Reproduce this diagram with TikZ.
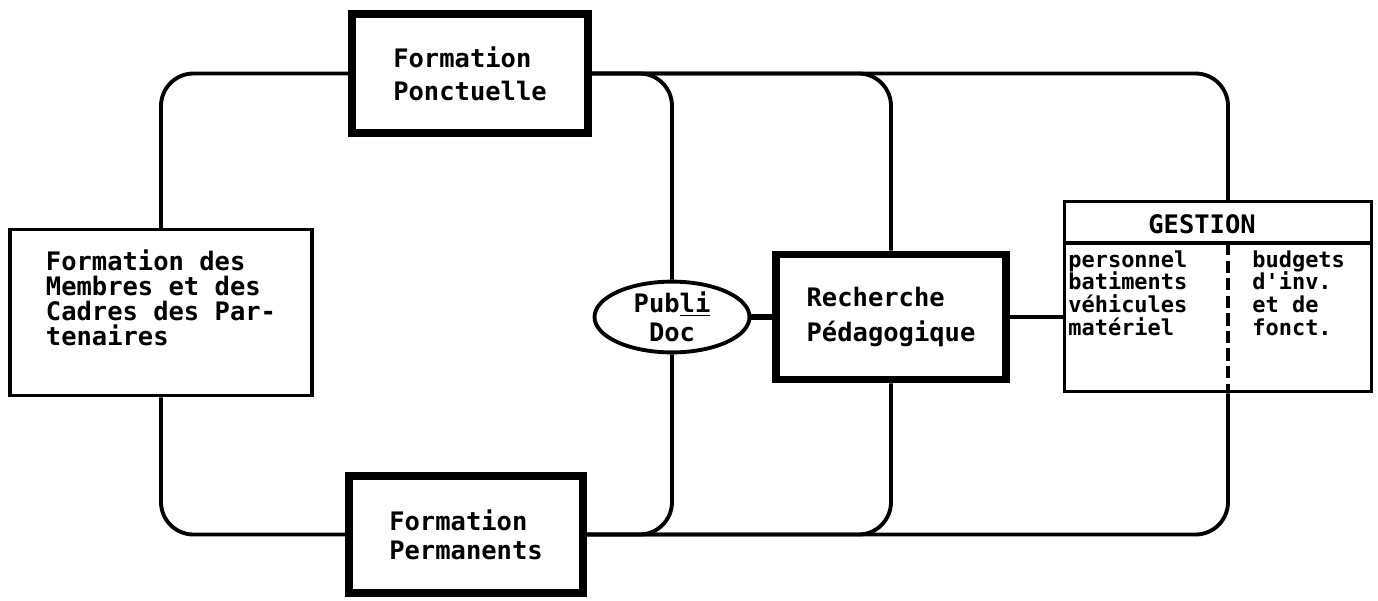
\documentclass[tikz,border=0pt]{standalone}
\usepackage{fontspec}
\setmonofont{DejaVu Sans Mono}
\usetikzlibrary{shapes.geometric}

\tikzset{
  printtext/.style={font=\ttfamily\bfseries\fontsize{14.5}{18.7}\selectfont},
  smallprint/.style={font=\ttfamily\bfseries\fontsize{12.5}{13}\selectfont},
  heavybox/.style={draw, line width=4.5pt, fill=white, align=left, inner sep=0pt, printtext},
  thinbox/.style={draw, line width=2pt, fill=white, align=left, inner sep=0pt, printtext},
  loopline/.style={line width=2.2pt, rounded corners=0.65cm},
}

\begin{document}
\begin{tikzpicture}[x=0.02cm,y=-0.02cm]
\useasboundingbox (0,0) rectangle (1378,600);

% boxes
\node[heavybox, minimum width=4.72cm, minimum height=2.38cm] (ponct) at (470,73.5) {Formation\\Ponctuelle};
\node[heavybox, minimum width=4.68cm, minimum height=2.34cm,
      font=\ttfamily\bfseries\fontsize{14.5}{16.4}\selectfont] (perm) at (466,534.5) {Formation\\Permanents};
\node[thinbox, minimum width=6.04cm, minimum height=3.32cm, text depth=17pt,
      font=\ttfamily\bfseries\fontsize{14.5}{14.2}\selectfont] (membres) at (161,312.5)
      {Formation des\\Membres et des\\Cadres des Par-\\tenaires};
\node[draw, ellipse, line width=2.2pt, fill=white, inner sep=0pt, align=center,
      minimum width=3.1cm, minimum height=1.36cm,
      font=\ttfamily\bfseries\fontsize{14.5}{16.5}\selectfont] (publi) at (672,317) {Pub\underline{li}\\Doc};
\node[heavybox, minimum width=4.6cm, minimum height=2.5cm,
      font=\ttfamily\bfseries\fontsize{14.5}{19.8}\selectfont] (rech) at (891,317) {Recherche\\Pédagogique};
\node[thinbox, minimum width=6.14cm, minimum height=3.8cm] (gest) at (1218,296.5) {};

% gestion inside
\coordinate (split) at (1228,243);
\draw[line width=1.8pt] (split -| gest.west) -- (split -| gest.east);
\draw[line width=2.4pt, dash pattern=on 7pt off 3pt] (split) -- (split |- gest.south);
\node[printtext, inner sep=0pt] (gtitle) at (1202,224) {GESTION};
\node[smallprint, align=left, inner sep=0pt, anchor=north west] (gleft) at (1068,250)
      {personnel\\batiments\\véhicules\\matériel};
\node[smallprint, align=left, inner sep=0pt, anchor=north west] (gright) at (1252,250)
      {budgets\\d'inv.\\et de\\fonct.};

% connections
\draw[loopline] (membres.north) |- (ponct.west);
\draw[loopline] (membres.south) |- (perm.west);
\draw[loopline] (ponct.east) -| (publi.north);
\draw[loopline] (ponct.east) -| (rech.north);
\draw[loopline] (ponct.east) -| (gest.north -| split);
\draw[loopline] (publi.south) |- (perm.east);
\draw[loopline] (rech.south) |- (perm.east);
\draw[loopline] (gest.south -| split) |- (perm.east);
\draw[line width=3pt] (publi.east) -- (rech.west);
\draw[line width=2.2pt] (rech.east) -- (rech.east -| gest.west);
\end{tikzpicture}
\end{document}
